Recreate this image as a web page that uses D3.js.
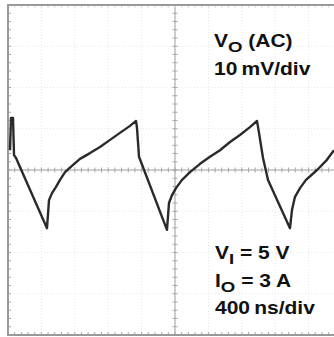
<!DOCTYPE html>
<html><head><meta charset="utf-8">
<script src="https://cdn.jsdelivr.net/npm/d3@7"></script>
<style>
html,body{margin:0;padding:0;background:#fff;}
svg{display:block;}
text{font-family:"Liberation Sans",Arial,sans-serif;font-weight:bold;fill:#111;}
</style></head>
<body>
<script>
// Time in ns (400 ns/div), voltage in mV (10 mV/div, AC coupled)
const traceTime = [24,36,60,72,96,467,491,527,575,623,683,766,862,982,1102,1222,1341,1461,1533,
  1545,1569,1904,1928,1964,2012,2084,2180,2300,2419,2539,2659,2778,2898,2982,
  3006,3054,3114,3377,3401,3437,3497,3569,3701,3808,3904];
const traceVolt = [4.8,12.6,12.6,3.6,2.9,-14.1,-7.3,-5.6,-4.1,-2.4,-0.5,1.0,2.7,4.1,5.6,7.3,9.0,10.7,11.9,
  10.2,3.2,-14.5,-8.0,-6.1,-4.4,-2.4,-0.5,1.5,3.2,4.8,6.8,8.5,10.4,11.9,
  9.0,2.9,-2.4,-14.1,-9.7,-6.5,-4.4,-2.4,0,2.2,4.8];
const xDivs = [0,400,800,1200,1600,2000,2400,2800,3200,3600,4000];
const yDivs = [-40,-30,-20,-10,0,10,20,30,40];
const labelsTop = [{main:"V",sub:"O",rest:" (AC)"},{main:"10\u2009mV/div",sub:"",rest:""}];
const labelsBottom = [{main:"V",sub:"I",rest:" = 5 V"},{main:"I",sub:"O",rest:" = 3 A"},{main:"400\u2009ns/div",sub:"",rest:""}];

const W=334,H=337;
const svg=d3.select("body").append("svg").attr("width",W).attr("height",H);
const x=d3.scaleLinear().domain([0,4000]).range([8,342]);
const y=d3.scaleLinear().domain([-40,40]).range([335,5]);

const defs=svg.append("defs");
defs.append("filter").attr("id","blur").append("feGaussianBlur").attr("stdDeviation",0.45);

const g=svg.append("g");
// faint grid
g.selectAll(".gx").data(xDivs.slice(1,-1)).join("line")
  .attr("x1",d=>x(d)).attr("x2",d=>x(d)).attr("y1",y(40)).attr("y2",y(-40))
  .attr("stroke","#e6e6e6").attr("stroke-width",1).attr("stroke-dasharray","1,2");
g.selectAll(".gy").data(yDivs.slice(1,-1)).join("line")
  .attr("y1",d=>y(d)).attr("y2",d=>y(d)).attr("x1",x(0)).attr("x2",x(4000))
  .attr("stroke","#e6e6e6").attr("stroke-width",1).attr("stroke-dasharray","1,2");

const xMinor=d3.range(0,4001,80), yMinor=d3.range(-40,40.01,2);
// center horizontal
g.append("line").attr("x1",x(0)).attr("x2",x(4000)).attr("y1",y(0)).attr("y2",y(0)).attr("stroke","#a0a0a0").attr("stroke-width",1);
g.selectAll(".tcx").data(xMinor).join("line")
  .attr("x1",d=>x(d)).attr("x2",d=>x(d)).attr("y1",y(0)-2.5).attr("y2",y(0)+2.5).attr("stroke","#a8a8a8");
// center vertical
g.append("line").attr("x1",x(2000)).attr("x2",x(2000)).attr("y1",y(40)).attr("y2",y(-40)).attr("stroke","#a0a0a0").attr("stroke-width",1);
g.selectAll(".tcy").data(yMinor).join("line")
  .attr("y1",d=>y(d)).attr("y2",d=>y(d)).attr("x1",x(2000)-2.5).attr("x2",x(2000)+2.5).attr("stroke","#a8a8a8");
// border ticks
g.selectAll(".tl").data(yMinor).join("line")
  .attr("y1",d=>y(d)).attr("y2",d=>y(d)).attr("x1",x(0)).attr("x2",x(0)+3).attr("stroke","#aaa");
g.selectAll(".tb").data(xMinor).join("line")
  .attr("x1",d=>x(d)).attr("x2",d=>x(d)).attr("y1",y(-40)).attr("y2",y(-40)-3).attr("stroke","#aaa");
g.selectAll(".tt").data(xMinor).join("line")
  .attr("x1",d=>x(d)).attr("x2",d=>x(d)).attr("y1",y(40)).attr("y2",y(40)+3).attr("stroke","#ddd");
// frame
g.append("path").attr("d",`M${x(4000)},${y(40)}H${x(0)}V${y(-40)}H${x(4000)}`)
  .attr("fill","none").attr("stroke","#9a9a9a").attr("stroke-width",2);

// trace
const pts=traceTime.map((t,i)=>[t,traceVolt[i]]);
const line=d3.line().x(d=>x(d[0])).y(d=>y(d[1]));
svg.append("path").datum(pts).attr("d",line).attr("fill","none")
  .attr("stroke","#2b2b2b").attr("stroke-width",2.4).attr("stroke-linejoin","round")
  .attr("filter","url(#blur)");

// labels
function drawLabel(l, bx, by){
  const t=svg.append("text").attr("transform",`translate(${bx},${by}) scale(1.2,1)`).attr("font-size",17.5);
  t.append("tspan").text(l.main);
  if(l.sub){ t.append("tspan").attr("dy",4.5).attr("font-size",15.5).text(l.sub);
             t.append("tspan").attr("dy",-4.5).text(l.rest); }
}
drawLabel(labelsTop[0],214,47);
drawLabel(labelsTop[1],214,75);
drawLabel(labelsBottom[0],215,259);
drawLabel(labelsBottom[1],215,287);
drawLabel(labelsBottom[2],215,314);
</script>
</body></html>
